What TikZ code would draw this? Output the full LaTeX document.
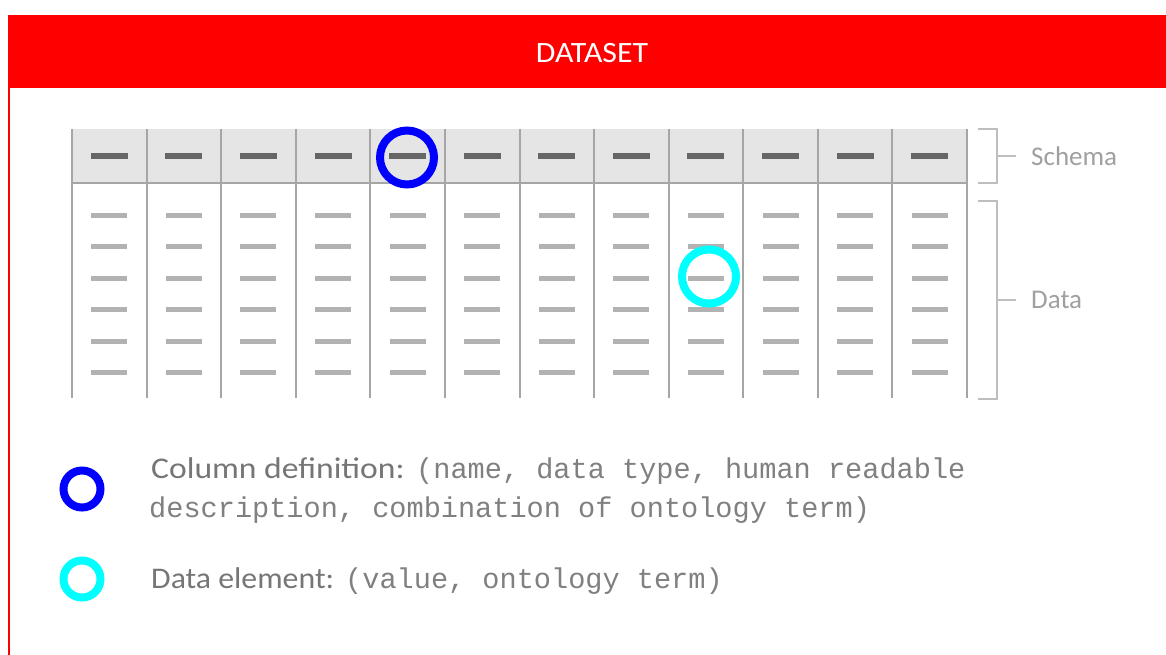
\documentclass[tikz,border=0pt]{standalone}
\usepackage{fontspec}
\setmainfont{Carlito}
\newfontfamily\widef[FakeStretch=1.12]{Carlito}
\newfontfamily\widerf[FakeStretch=1.06]{Carlito}
\newfontfamily\titlef[FakeStretch=1.08]{Carlito}
\newfontfamily\monof{Liberation Mono}
\definecolor{hdrred}{RGB}{255,0,0}
\definecolor{ringblue}{RGB}{0,0,255}
\definecolor{ringcyan}{RGB}{0,255,255}
\definecolor{gridgray}{RGB}{166,166,166}
\definecolor{schemafill}{RGB}{229,229,229}
\definecolor{darkdash}{RGB}{102,102,102}
\definecolor{lightdash}{RGB}{178,178,178}
\definecolor{brkgray}{RGB}{190,190,190}
\definecolor{lblgray}{RGB}{160,160,160}
\definecolor{txtgray}{RGB}{118,118,118}
\definecolor{monogray}{RGB}{128,128,128}
\tikzset{
  gridline/.style={draw=gridgray, line width=2pt},
  hdash/.style={draw=darkdash, line width=6pt},
  ddash/.style={draw=lightdash, line width=5pt},
  brk/.style={draw=brkgray, line width=1.5pt},
  sidelbl/.style={anchor=west, text=lblgray, font=\fontsize{27}{32}\selectfont, inner sep=0pt},
  ring/.style={circle, draw, line width=8pt, inner sep=0pt},
  legsans/.style={anchor=base west, text=txtgray, font=\widef\fontsize{30}{36}\selectfont, inner sep=0pt},
  legmono/.style={anchor=base west, text=monogray, font=\monof\fontsize{28.6}{34}\selectfont, inner sep=0pt}
}
\begin{document}
\begin{tikzpicture}[x=1pt,y=-1pt]
\useasboundingbox (0,0) rectangle (1166,655);
\fill[white] (0,0) rectangle (1166,655);
% header
\fill[hdrred] (8,15) rectangle (1166,88);
\draw[hdrred, line width=2pt] (9,88) -- (9,655);
\node[text=white, font=\titlef\fontsize{29.5}{34}\selectfont, inner sep=0pt] (title) at (592,53.5) {DATASET};
% schema background
\fill[schemafill] (72,129) rectangle (967,183);
\draw[gridline] (72,183) -- (967,183);
\foreach \i in {0,...,12} {
  \draw[gridline] ({72+\i*74.583},129) -- ({72+\i*74.583},398);
}
\foreach \i in {0,...,11} {
  \pgfmathsetmacro{\cx}{72+(\i+0.5)*74.583}
  \draw[hdash] (\cx-18.5,156) -- (\cx+18.5,156);
  \foreach \ry in {215,246,278,309,341,372} {
    \draw[ddash] (\cx-18,\ry) -- (\cx+18,\ry);
  }
}
% highlight rings
\node[ring, draw=ringblue, minimum size=54pt] (colring) at (407,157.5) {};
\node[ring, draw=ringcyan, minimum size=54pt] (dataring) at (709,276.5) {};
% brackets
\draw[brk] (978,129) -- (997,129) -- (997,183) -- (978,183);
\coordinate (stick) at (1016,156);
\draw[brk] (997,156) -- (stick);
\node[sidelbl] (schema) at (1031,156) {Schema};
\draw[brk] (978,201) -- (997,201) -- (997,399) -- (978,399);
\coordinate (dtick) at (1016,300);
\draw[brk] (997,300) -- (dtick);
\node[sidelbl] (data) at (1031,300) {Data};
% legend
\node[ring, draw=ringblue, minimum size=37pt] (legblue) at (82,489) {};
\node[ring, draw=ringcyan, minimum size=37pt] (legcyan) at (82,579) {};
\node[legsans] (coldef) at (151,478) {Column definition:};
\node[legmono] (coldefa) at (416,478) {(name, data type, human readable};
\node[legmono] (coldefb) at (149,517) {description, combination of ontology term)};
\node[legsans, font=\widerf\fontsize{30}{36}\selectfont] (dataelem) at (151,588) {Data element:};
\node[legmono] (dataelema) at (345,588) {(value, ontology term)};
\end{tikzpicture}
\end{document}
